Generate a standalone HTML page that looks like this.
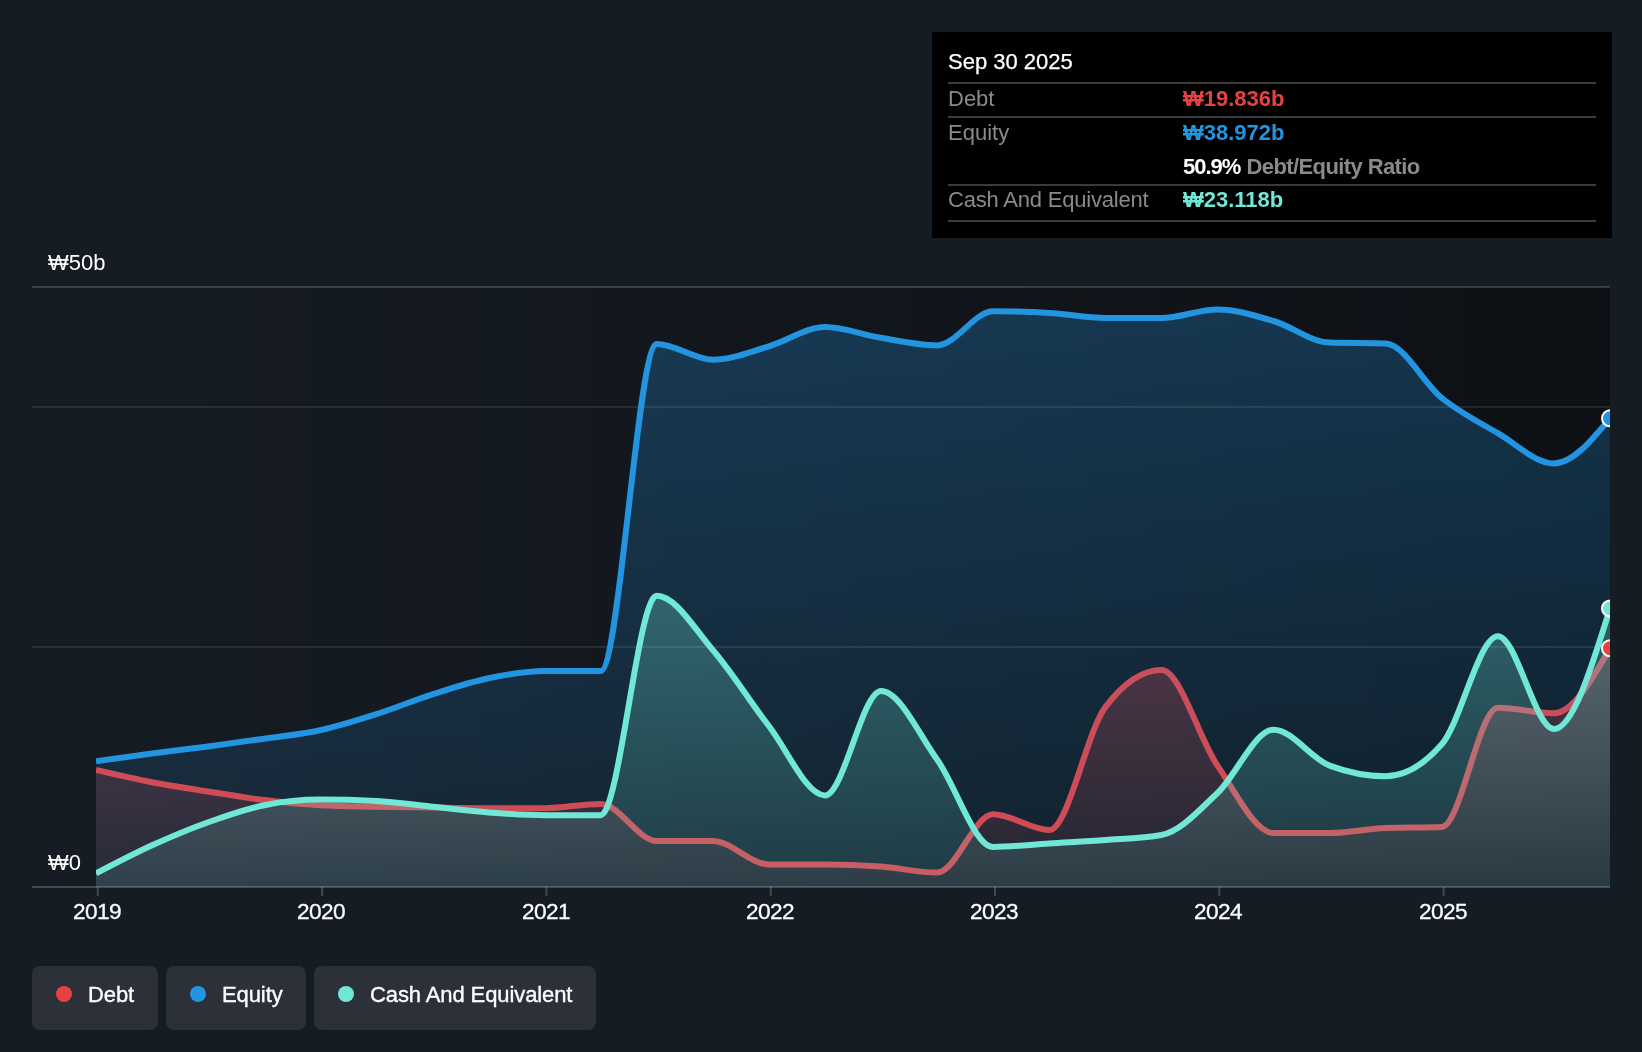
<!DOCTYPE html>
<html><head><meta charset="utf-8">
<style>
html,body{margin:0;padding:0;}
body{width:1642px;height:1052px;background:#161c24;overflow:hidden;position:relative;font-family:"Liberation Sans",sans-serif;}
svg{position:absolute;left:0;top:0;}
.ylab{position:absolute;left:48px;color:#fff;font-size:22px;line-height:22px;will-change:transform;}
.xlab{position:absolute;top:901.2px;color:#fff;font-size:22.6px;line-height:22px;width:100px;margin-left:-50px;text-align:center;letter-spacing:-0.6px;-webkit-text-stroke:0.3px #fff;will-change:transform;}
.tip{position:absolute;left:932px;top:32px;width:680px;height:206px;background:#000;}
.hl{position:absolute;left:948px;width:648px;height:2px;background:#3a3a3a;}
.tt{position:absolute;font-size:22px;line-height:22px;white-space:nowrap;will-change:transform;}
.b{font-weight:bold;}
.leg{position:absolute;top:966px;height:64px;background:#2c3039;border-radius:8px;color:#fff;font-size:22px;}
.leg .dot{position:absolute;left:24px;top:20px;width:16px;height:16px;border-radius:50%;}
.leg .t{will-change:transform;position:absolute;left:56px;top:18px;line-height:22px;-webkit-text-stroke:0.35px #fff;letter-spacing:-0.1px;}
</style></head>
<body>
<svg width="1642" height="1052" viewBox="0 0 1642 1052">
<defs>
<linearGradient id="plotbg" x1="0" y1="0" x2="1" y2="0">
<stop offset="0" stop-color="#000" stop-opacity="0"/>
<stop offset="1" stop-color="#000" stop-opacity="0.4"/>
</linearGradient>
<linearGradient id="geq" gradientUnits="userSpaceOnUse" x1="0" y1="287" x2="0" y2="887">
<stop offset="0" stop-color="#2394df" stop-opacity="0.28"/>
<stop offset="1" stop-color="#2394df" stop-opacity="0.10"/>
</linearGradient>
<linearGradient id="gdebt" gradientUnits="userSpaceOnUse" x1="0" y1="647" x2="0" y2="887">
<stop offset="0" stop-color="#e84142" stop-opacity="0.32"/>
<stop offset="1" stop-color="#e84142" stop-opacity="0.08"/>
</linearGradient>
<linearGradient id="gcash" gradientUnits="userSpaceOnUse" x1="0" y1="587" x2="0" y2="887">
<stop offset="0" stop-color="#71e7d6" stop-opacity="0.30"/>
<stop offset="1" stop-color="#71e7d6" stop-opacity="0.12"/>
</linearGradient>
<clipPath id="clip"><rect x="96" y="200" width="1514" height="687"/></clipPath>
</defs>
<rect x="32" y="287" width="1578" height="600" fill="url(#plotbg)"/>
<g clip-path="url(#clip)">
<path d="M96.00,769.90C114.69,774.25 133.38,778.60 152.07,782.20C170.77,785.80 189.46,788.52 208.15,791.50C226.84,794.48 245.53,797.82 264.22,800.10C282.91,802.38 301.60,804.20 320.30,805.20C338.99,806.20 357.68,806.30 376.37,806.70C395.06,807.10 413.75,807.35 432.44,807.60C451.14,807.85 469.83,808.20 488.52,808.20C507.21,808.20 525.90,808.20 544.59,808.20C563.28,808.20 581.98,803.90 600.67,803.90C619.36,803.90 638.05,841.00 656.74,841.00C675.43,841.00 694.12,841.00 712.81,841.00C731.51,841.00 750.20,864.40 768.89,864.40C787.58,864.40 806.27,864.40 824.96,864.40C843.65,864.40 862.35,865.13 881.04,866.50C899.73,867.87 918.42,872.60 937.11,872.60C955.80,872.60 974.49,814.20 993.19,814.20C1011.88,814.20 1030.57,830.00 1049.26,830.00C1067.95,830.00 1086.64,731.83 1105.33,707.10C1124.02,682.37 1142.72,670.00 1161.41,670.00C1180.10,670.00 1198.79,738.43 1217.48,765.60C1236.17,792.77 1254.86,833.00 1273.56,833.00C1292.25,833.00 1310.94,833.00 1329.63,833.00C1348.32,833.00 1367.01,828.67 1385.70,828.00C1404.40,827.33 1423.09,827.67 1441.78,827.00C1460.47,826.33 1479.16,707.80 1497.85,707.80C1516.54,707.80 1535.23,713.20 1553.93,713.20C1572.62,713.20 1591.31,680.70 1610.00,648.20L1610.00,887.00L96.00,887.00Z" fill="url(#gdebt)"/>
<path d="M96.00,769.90C114.69,774.25 133.38,778.60 152.07,782.20C170.77,785.80 189.46,788.52 208.15,791.50C226.84,794.48 245.53,797.82 264.22,800.10C282.91,802.38 301.60,804.20 320.30,805.20C338.99,806.20 357.68,806.30 376.37,806.70C395.06,807.10 413.75,807.35 432.44,807.60C451.14,807.85 469.83,808.20 488.52,808.20C507.21,808.20 525.90,808.20 544.59,808.20C563.28,808.20 581.98,803.90 600.67,803.90C619.36,803.90 638.05,841.00 656.74,841.00C675.43,841.00 694.12,841.00 712.81,841.00C731.51,841.00 750.20,864.40 768.89,864.40C787.58,864.40 806.27,864.40 824.96,864.40C843.65,864.40 862.35,865.13 881.04,866.50C899.73,867.87 918.42,872.60 937.11,872.60C955.80,872.60 974.49,814.20 993.19,814.20C1011.88,814.20 1030.57,830.00 1049.26,830.00C1067.95,830.00 1086.64,731.83 1105.33,707.10C1124.02,682.37 1142.72,670.00 1161.41,670.00C1180.10,670.00 1198.79,738.43 1217.48,765.60C1236.17,792.77 1254.86,833.00 1273.56,833.00C1292.25,833.00 1310.94,833.00 1329.63,833.00C1348.32,833.00 1367.01,828.67 1385.70,828.00C1404.40,827.33 1423.09,827.67 1441.78,827.00C1460.47,826.33 1479.16,707.80 1497.85,707.80C1516.54,707.80 1535.23,713.20 1553.93,713.20C1572.62,713.20 1591.31,680.70 1610.00,648.20" fill="none" stroke="#e84142" stroke-width="6" stroke-linejoin="round"/>
<path d="M96.00,761.20C114.69,758.58 133.38,755.97 152.07,753.50C170.77,751.03 189.46,748.87 208.15,746.40C226.84,743.93 245.53,741.40 264.22,738.70C282.91,736.00 301.60,734.28 320.30,730.20C338.99,726.12 357.68,720.17 376.37,714.20C395.06,708.23 413.75,700.38 432.44,694.40C451.14,688.42 469.83,682.18 488.52,678.30C507.21,674.42 525.90,671.10 544.59,671.10C563.28,671.10 581.98,671.10 600.67,671.10C619.36,671.10 638.05,343.90 656.74,343.90C675.43,343.90 694.12,359.70 712.81,359.70C731.51,359.70 750.20,351.73 768.89,346.30C787.58,340.87 806.27,327.10 824.96,327.10C843.65,327.10 862.35,334.75 881.04,337.80C899.73,340.85 918.42,345.40 937.11,345.40C955.80,345.40 974.49,311.30 993.19,311.30C1011.88,311.30 1030.57,311.83 1049.26,312.90C1067.95,313.97 1086.64,318.00 1105.33,318.00C1124.02,318.00 1142.72,318.00 1161.41,318.00C1180.10,318.00 1198.79,309.50 1217.48,309.50C1236.17,309.50 1254.86,315.48 1273.56,321.00C1292.25,326.52 1310.94,342.00 1329.63,342.60C1348.32,343.20 1367.01,342.90 1385.70,343.50C1404.40,344.10 1423.09,383.05 1441.78,398.00C1460.47,412.95 1479.16,422.30 1497.85,433.20C1516.54,444.10 1535.23,463.40 1553.93,463.40C1572.62,463.40 1591.31,440.85 1610.00,418.30L1610.00,887.00L96.00,887.00Z" fill="url(#geq)"/>
<path d="M96.00,873.40C114.69,863.62 133.38,853.83 152.07,845.30C170.77,836.77 189.46,828.88 208.15,822.20C226.84,815.52 245.53,808.93 264.22,805.20C282.91,801.47 301.60,799.60 320.30,799.60C338.99,799.60 357.68,800.07 376.37,801.00C395.06,801.93 413.75,804.80 432.44,806.70C451.14,808.60 469.83,810.98 488.52,812.40C507.21,813.82 525.90,815.20 544.59,815.20C563.28,815.20 581.98,815.20 600.67,815.20C619.36,815.20 638.05,595.80 656.74,595.80C675.43,595.80 694.12,628.30 712.81,650.00C731.51,671.70 750.20,701.77 768.89,726.00C787.58,750.23 806.27,795.40 824.96,795.40C843.65,795.40 862.35,691.00 881.04,691.00C899.73,691.00 918.42,733.50 937.11,759.50C955.80,785.50 974.49,847.00 993.19,847.00C1011.88,847.00 1030.57,844.57 1049.26,843.40C1067.95,842.23 1086.64,841.40 1105.33,840.00C1124.02,838.60 1142.72,838.33 1161.41,835.00C1180.10,831.67 1198.79,810.55 1217.48,793.00C1236.17,775.45 1254.86,729.70 1273.56,729.70C1292.25,729.70 1310.94,758.53 1329.63,765.60C1348.32,772.67 1367.01,776.20 1385.70,776.20C1404.40,776.20 1423.09,765.57 1441.78,744.30C1460.47,723.03 1479.16,636.30 1497.85,636.30C1516.54,636.30 1535.23,729.00 1553.93,729.00C1572.62,729.00 1591.31,668.70 1610.00,608.40L1610.00,887.00L96.00,887.00Z" fill="url(#gcash)"/>
</g>
<line x1="32" y1="407" x2="1610" y2="407" stroke="#fff" stroke-opacity="0.09" stroke-width="2"/>
<line x1="32" y1="647" x2="1610" y2="647" stroke="#fff" stroke-opacity="0.09" stroke-width="2"/>
<g clip-path="url(#clip)">
<path d="M96.00,761.20C114.69,758.58 133.38,755.97 152.07,753.50C170.77,751.03 189.46,748.87 208.15,746.40C226.84,743.93 245.53,741.40 264.22,738.70C282.91,736.00 301.60,734.28 320.30,730.20C338.99,726.12 357.68,720.17 376.37,714.20C395.06,708.23 413.75,700.38 432.44,694.40C451.14,688.42 469.83,682.18 488.52,678.30C507.21,674.42 525.90,671.10 544.59,671.10C563.28,671.10 581.98,671.10 600.67,671.10C619.36,671.10 638.05,343.90 656.74,343.90C675.43,343.90 694.12,359.70 712.81,359.70C731.51,359.70 750.20,351.73 768.89,346.30C787.58,340.87 806.27,327.10 824.96,327.10C843.65,327.10 862.35,334.75 881.04,337.80C899.73,340.85 918.42,345.40 937.11,345.40C955.80,345.40 974.49,311.30 993.19,311.30C1011.88,311.30 1030.57,311.83 1049.26,312.90C1067.95,313.97 1086.64,318.00 1105.33,318.00C1124.02,318.00 1142.72,318.00 1161.41,318.00C1180.10,318.00 1198.79,309.50 1217.48,309.50C1236.17,309.50 1254.86,315.48 1273.56,321.00C1292.25,326.52 1310.94,342.00 1329.63,342.60C1348.32,343.20 1367.01,342.90 1385.70,343.50C1404.40,344.10 1423.09,383.05 1441.78,398.00C1460.47,412.95 1479.16,422.30 1497.85,433.20C1516.54,444.10 1535.23,463.40 1553.93,463.40C1572.62,463.40 1591.31,440.85 1610.00,418.30" fill="none" stroke="#2394df" stroke-width="6" stroke-linejoin="round"/>
<path d="M96.00,873.40C114.69,863.62 133.38,853.83 152.07,845.30C170.77,836.77 189.46,828.88 208.15,822.20C226.84,815.52 245.53,808.93 264.22,805.20C282.91,801.47 301.60,799.60 320.30,799.60C338.99,799.60 357.68,800.07 376.37,801.00C395.06,801.93 413.75,804.80 432.44,806.70C451.14,808.60 469.83,810.98 488.52,812.40C507.21,813.82 525.90,815.20 544.59,815.20C563.28,815.20 581.98,815.20 600.67,815.20C619.36,815.20 638.05,595.80 656.74,595.80C675.43,595.80 694.12,628.30 712.81,650.00C731.51,671.70 750.20,701.77 768.89,726.00C787.58,750.23 806.27,795.40 824.96,795.40C843.65,795.40 862.35,691.00 881.04,691.00C899.73,691.00 918.42,733.50 937.11,759.50C955.80,785.50 974.49,847.00 993.19,847.00C1011.88,847.00 1030.57,844.57 1049.26,843.40C1067.95,842.23 1086.64,841.40 1105.33,840.00C1124.02,838.60 1142.72,838.33 1161.41,835.00C1180.10,831.67 1198.79,810.55 1217.48,793.00C1236.17,775.45 1254.86,729.70 1273.56,729.70C1292.25,729.70 1310.94,758.53 1329.63,765.60C1348.32,772.67 1367.01,776.20 1385.70,776.20C1404.40,776.20 1423.09,765.57 1441.78,744.30C1460.47,723.03 1479.16,636.30 1497.85,636.30C1516.54,636.30 1535.23,729.00 1553.93,729.00C1572.62,729.00 1591.31,668.70 1610.00,608.40" fill="none" stroke="#71e7d6" stroke-width="6" stroke-linejoin="round"/>
<circle cx="1610.00" cy="418.30" r="8" fill="#2394df" stroke="#fff" stroke-width="2"/>
<circle cx="1610.00" cy="608.40" r="8" fill="#71e7d6" stroke="#fff" stroke-width="2"/>
<circle cx="1610.00" cy="648.20" r="8" fill="#e84142" stroke="#fff" stroke-width="2"/>
</g>
<line x1="32" y1="287" x2="1610" y2="287" stroke="#fff" stroke-opacity="0.17" stroke-width="2"/>
<line x1="32" y1="887" x2="1610" y2="887" stroke="#fff" stroke-opacity="0.2" stroke-width="2"/>
<g stroke="#fff" stroke-opacity="0.2" stroke-width="2">
<line x1="97.8" y1="887" x2="97.8" y2="896"/>
<line x1="322.1" y1="887" x2="322.1" y2="896"/>
<line x1="546.4" y1="887" x2="546.4" y2="896"/>
<line x1="770.7" y1="887" x2="770.7" y2="896"/>
<line x1="995.0" y1="887" x2="995.0" y2="896"/>
<line x1="1219.3" y1="887" x2="1219.3" y2="896"/>
<line x1="1443.6" y1="887" x2="1443.6" y2="896"/>
</g>
</svg>
<div class="ylab" style="top:251.5px">₩50b</div>
<div class="ylab" style="top:852px">₩0</div>
<div class="xlab" style="left:97px">2019</div>
<div class="xlab" style="left:321px">2020</div>
<div class="xlab" style="left:546px">2021</div>
<div class="xlab" style="left:770px">2022</div>
<div class="xlab" style="left:994px">2023</div>
<div class="xlab" style="left:1218px">2024</div>
<div class="xlab" style="left:1443px">2025</div>

<div class="tip"></div>
<div class="hl" style="top:82px"></div>
<div class="hl" style="top:116px"></div>
<div class="hl" style="top:184px"></div>
<div class="hl" style="top:220px"></div>
<div class="tt" style="left:948px;top:51px;color:#fff;-webkit-text-stroke:0.25px #fff">Sep 30 2025</div>
<div class="tt" style="left:948px;top:87.5px;color:#8a8a8a">Debt</div>
<div class="tt b" style="left:1183px;top:87.5px;color:#e84142">₩19.836b</div>
<div class="tt" style="left:948px;top:121.5px;color:#8a8a8a">Equity</div>
<div class="tt b" style="left:1183px;top:121.5px;color:#2394df">₩38.972b</div>
<div class="tt b" style="left:1183px;top:155.5px;color:#fff"><span style="letter-spacing:-1px">50.9%</span> <span style="color:#8a8a8a;letter-spacing:-0.6px">Debt/Equity Ratio</span></div>
<div class="tt" style="left:948px;top:189px;color:#8a8a8a;letter-spacing:-0.2px">Cash And Equivalent</div>
<div class="tt b" style="left:1183px;top:189px;color:#71e7d6">₩23.118b</div>

<div class="leg" style="left:32px;width:126px"><span class="dot" style="background:#e84142"></span><span class="t">Debt</span></div>
<div class="leg" style="left:166px;width:140px"><span class="dot" style="background:#2394df"></span><span class="t">Equity</span></div>
<div class="leg" style="left:314px;width:282px"><span class="dot" style="background:#71e7d6"></span><span class="t">Cash And Equivalent</span></div>
</body></html>
